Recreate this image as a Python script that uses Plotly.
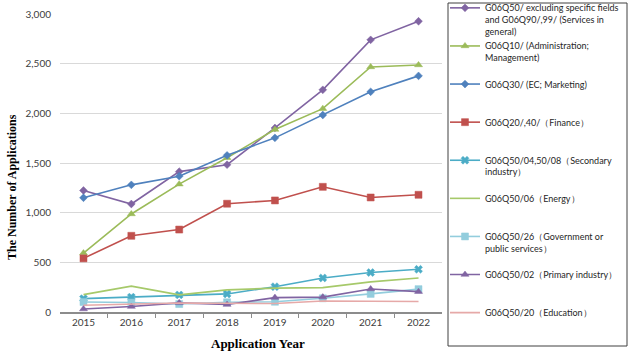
import plotly.graph_objects as go

years = ["2015", "2016", "2017", "2018", "2019", "2020", "2021", "2022"]

services = [1223, 1087, 1413, 1483, 1853, 2237, 2740, 2927]
admin = [593, 987, 1287, 1553, 1837, 2047, 2467, 2487]
ec = [1150, 1280, 1367, 1577, 1753, 1983, 2217, 2377]
finance = [540, 767, 830, 1090, 1123, 1260, 1153, 1180]
secondary = [135, 150, 172, 182, 255, 343, 397, 430]
energy = [175, 260, 172, 223, 240, 245, 303, 343]
government = [100, 95, 80, 98, 103, 138, 182, 230]
primary = [30, 55, 92, 75, 145, 150, 232, 205]
education = [68, 78, 90, 88, 85, 110, 108, 105]

names = [
    "G06Q50/ excluding specific fields<br>and G06Q90/,99/ (Services in<br>general)",
    "G06Q10/ (Administration;<br>Management)<br> ",
    "G06Q30/ (EC; Marketing)<br> <br> ",
    "G06Q20/,40/（Finance）<br> <br> ",
    "G06Q50/04,50/08（Secondary<br>industry）<br> ",
    "G06Q50/06（Energy）<br> <br> ",
    "G06Q50/26（Government or<br>public services）<br> ",
    "G06Q50/02（Primary industry）<br> <br> ",
    "G06Q50/20（Education）<br> <br> ",
]

series = [services, admin, ec, finance, secondary, energy, government, primary, education]
colors = ["#8064A2", "#9BBB59", "#4F81BD", "#C0504D", "#4BACC6",
          "#A6C96A", "#93CDDD", "#8064A2", "#E6A9A8"]
symbols = ["diamond", "triangle-up", "diamond", "square", "x",
           None, "square", "triangle-up", None]
sizes = [6, 7, 6, 7, 7, 0, 7, 7, 0]

fig = go.Figure()
for vals, name, col, sym, sz in zip(series, names, colors, symbols, sizes):
    if sym is None:
        fig.add_trace(go.Scatter(x=years, y=vals, name=name, mode="lines",
                                 line=dict(color=col, width=1.6)))
    else:
        fig.add_trace(go.Scatter(x=years, y=vals, name=name, mode="lines+markers",
                                 line=dict(color=col, width=1.6),
                                 marker=dict(symbol=sym, size=sz, color=col,
                                             line=dict(width=0.5, color=col))))

L, R, T, B = 60, 442, 14, 312
W, H = R - L, B - T


def px_x(p):
    return (p - L) / W


def px_y(p):
    return (B - p) / H


fig.update_layout(
    width=633, height=355,
    margin=dict(l=L, r=633 - R, t=T, b=355 - B, autoexpand=False),
    paper_bgcolor="white", plot_bgcolor="white",
    font=dict(family="Lato", size=10, color="#595959"),
    showlegend=True,
    legend=dict(
        xref="paper", x=px_x(445), xanchor="left",
        y=px_y(-4.5), yanchor="top", maxheight=400,
        font=dict(family="Lato", size=9, color="#262626"),
        borderwidth=0, bgcolor="rgba(0,0,0,0)",
        valign="top", tracegroupgap=0,
    ),
    xaxis=dict(
        type="category", showgrid=False,
        showline=True, linecolor="#8c8c8c", linewidth=1.5,
        ticks="outside", tickson="boundaries", ticklen=4, tickcolor="#8c8c8c",
        tickfont=dict(family="Lato", size=10, color="#404040"),
    ),
    yaxis=dict(
        range=[0, 3000], tickvals=[0, 500, 1000, 1500, 2000, 2500, 3000],
        tickformat=",", showgrid=True, gridcolor="#d9d9d9", gridwidth=1,
        zeroline=False, showline=False, ticklabelstandoff=8,
        tickfont=dict(family="Lato", size=10, color="#404040"),
    ),
    shapes=[
        dict(type="rect", xref="paper", yref="paper",
             x0=px_x(448), x1=px_x(627), y0=px_y(346), y1=px_y(3),
             line=dict(color="#404040", width=1), fillcolor="rgba(0,0,0,0)",
             layer="below"),
    ],
    annotations=[
        dict(text="<b>The Number of Applications</b>", textangle=-90,
             xref="paper", yref="paper", x=px_x(12), y=px_y(187),
             xanchor="center", yanchor="middle", showarrow=False,
             font=dict(family="Liberation Serif", size=12, color="#000000")),
        dict(text="<b>Application Year</b>",
             xref="paper", yref="paper", x=px_x(258), y=px_y(343),
             xanchor="center", yanchor="middle", showarrow=False,
             font=dict(family="Liberation Serif", size=13, color="#000000")),
    ],
)

fig.write_html("out.html", config={"displayModeBar": False},
               post_script="document.body.style.margin='0';document.body.style.overflow='hidden';")
